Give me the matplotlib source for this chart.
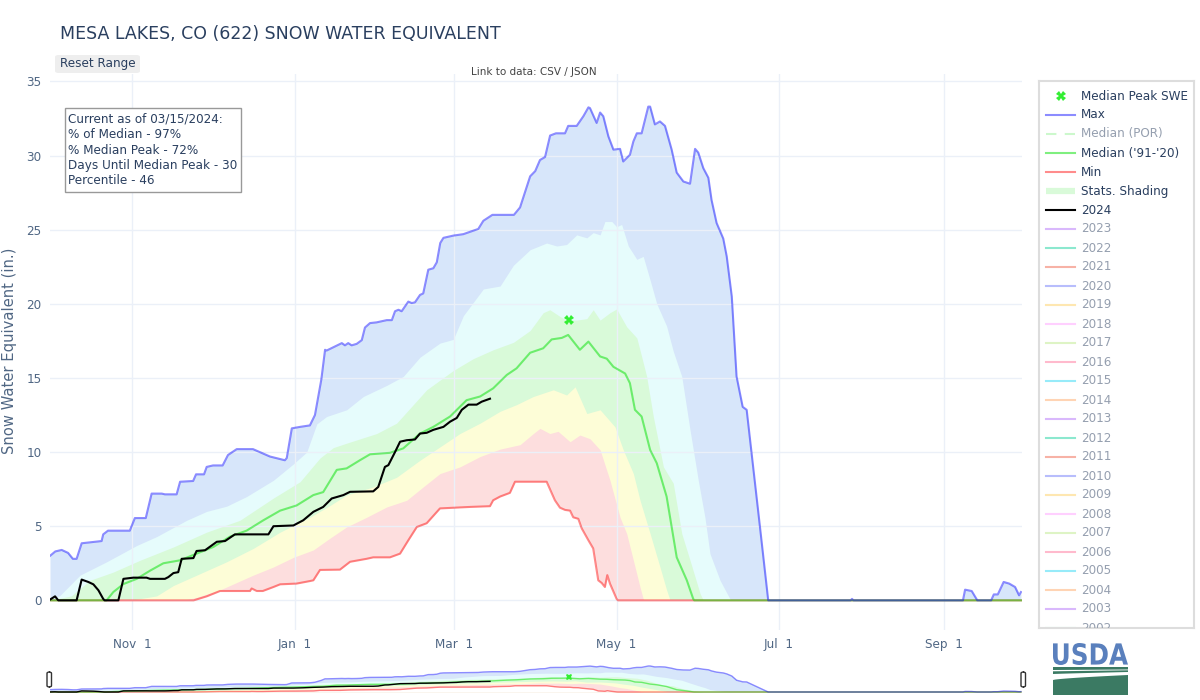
import numpy as np
import pandas as pd
import matplotlib
matplotlib.use('Agg')
import matplotlib.pyplot as plt
import matplotlib.dates as mdates
from matplotlib.patches import Rectangle, FancyBboxPatch, PathPatch, Polygon
from matplotlib.textpath import TextPath
from matplotlib.font_manager import FontProperties
from matplotlib.transforms import Affine2D
from matplotlib.ticker import FuncFormatter

plt.rcParams['font.family'] = ['DejaVu Sans']

W, H = 1200, 700
start = pd.Timestamp('2023-10-01')

# ---- data: days since Oct 1 2023, SWE in inches ----
max_days = [0, 2, 4.4, 6.8, 8.6, 10, 11.9, 14.4, 19.4, 20, 21.8, 30, 31.9, 36, 38.2, 42, 43.2, 47.6,
            48.9, 53.8, 54.9, 57.9, 58.9, 61.3, 64.9, 66.9, 70.2, 76.3, 82.7, 88.3, 89, 90.9, 94,
            97.7, 99.6, 102, 103.4, 104, 109.7, 110.9, 112.1, 113.4, 115.3, 117.2, 118.4, 120.3,
            122.8, 124.1, 126.6, 128.5, 129.7, 131, 132.2, 134.7, 136, 137.2, 139.1, 140.3, 142.2,
            144.1, 145.4, 146.7, 147.9, 151.6, 155.4, 161, 162.9, 166.3, 174.4, 176.7, 180.5,
            182.4, 184.2, 186.1, 188, 190.2, 193.6, 194.8, 198, 200.5, 202.4, 203, 205.5, 206.8,
            208, 209.9, 211.8, 214.3, 215.5, 218, 219.3, 220.6, 222.4, 224.9, 225.6, 227.4, 229.3,
            231.2, 233.7, 235.6, 238.1, 240.6, 242.5, 243.7, 245.6, 247.5, 248.7, 250.6, 253.1,
            254.4, 256.3, 258.1, 260.4, 261.9, 263.2, 266.9, 270, 301, 301.5, 302, 343.2, 344,
            346.5, 348.6, 353.8, 354.8, 356.3, 358.5, 360.6, 362.8, 364.3, 365]
max_swe = [3.0, 3.3, 3.4, 3.2, 2.8, 2.8, 3.85, 3.9, 4.0, 4.45, 4.7, 4.7, 5.55, 5.55, 7.2, 7.2, 7.15, 7.15,
           8.0, 8.05, 8.5, 8.5, 9.0, 9.1, 9.1, 9.8, 10.2, 10.2, 9.7, 9.45, 9.6, 11.6, 11.7,
           11.8, 12.5, 14.9, 16.9, 16.85, 17.35, 17.2, 17.35, 17.2, 17.3, 17.55, 18.4, 18.7,
           18.75, 18.8, 18.9, 18.9, 19.5, 19.6, 19.5, 20.15, 20.05, 20.1, 20.6, 20.7, 22.3,
           22.4, 22.8, 24.1, 24.45, 24.6, 24.7, 25.05, 25.6, 26.0, 26.0, 26.5, 28.6,
           28.95, 29.7, 29.9, 31.35, 31.5, 31.5, 32.0, 32.0, 32.65, 33.25, 33.2, 32.2, 32.9,
           32.65, 31.3, 30.4, 30.45, 29.6, 30.05, 30.95, 31.5, 31.5, 33.3, 33.3, 32.1, 32.3,
           32.0, 30.4, 28.85, 28.25, 28.1, 30.45, 30.2, 29.15, 28.5, 27.0, 25.45, 24.4,
           23.2, 20.5, 15.1, 13.05, 12.85, 10.8, 4.95, 0, 0, 0.1, 0, 0, 0.72,
           0.63, 0, 0, 0.4, 0.4, 1.24, 1.13, 0.9, 0.34, 0.56]

p90_days = [0, 3.8, 11.3, 21.3, 32.6, 40.1, 51.4, 58.9, 66.4, 73.9, 84, 91.5, 96.5, 100.3, 104, 111.5,
            117.8, 126.6, 132.8, 139.1, 146.6, 151.6, 155.4, 162.9, 169.2, 174.2, 180.5, 186.7,
            190.5, 194.2, 198, 201.8, 204.2, 206.8, 208.6, 211.2, 213, 214.9, 217.4, 220.6, 223,
            225.6, 228.1, 231.8, 234.3, 237.5, 240.6, 243.7, 246.2, 248.1, 251.9, 255.6, 256.5, 365]
p90_swe = [0, 0.34, 1.7, 2.6, 3.7, 4.3, 5.4, 6.0, 6.35, 7.0, 8.1, 9.2, 10.0, 11.9, 12.4, 12.85,
           13.75, 14.5, 15.1, 16.4, 17.35, 17.6, 19.2, 21.0, 21.2, 22.6, 23.65, 24.1,
           23.9, 24.0, 24.65, 24.45, 24.8, 24.65, 25.55, 25.55, 25.2, 25.35, 23.9, 23.0, 23.2,
           21.6, 20.0, 18.5, 16.8, 15.1, 11.5, 8.1, 5.6, 3.15, 1.35, 0.1, 0, 0]

p70_days = [0, 8, 15, 23.7, 33.8, 46.4, 58.9, 71.4, 84, 94, 101.5, 106.5, 111.5, 122.8, 130.3, 141.6,
            151.6, 159.1, 166.6, 174.2, 180.5, 185.4, 187.9, 191.7, 194.2, 198, 201.8, 204.2,
            206.8, 210.5, 213, 216.8, 220.6, 222.4, 224.3, 226.8, 230.6, 234.3, 237.5, 240.6,
            244.4, 245.6, 365]
p70_swe = [0, 0.3, 1.35, 1.9, 2.7, 3.6, 4.6, 5.4, 6.9, 8.0, 9.6, 10.3, 10.6, 11.25, 11.95, 14.2,
           15.5, 16.3, 16.9, 17.4, 18.2, 19.4, 19.6, 19.15, 18.9, 18.9, 19.0, 19.6,
           18.9, 19.4, 19.65, 18.45, 17.7, 16.45, 15.1, 12.4, 9.0, 7.9, 4.5, 2.7,
           0.45, 0, 0]

p30_days = [0, 30, 40.1, 46.4, 56.4, 66.4, 76.4, 86.5, 97.7, 105.3, 111.5, 121.5, 130.3, 139.1, 146.6,
            154.1, 161.7, 169.2, 175.4, 181.7, 189.2, 194.2, 197.4, 201.8, 206.8, 212.4, 215.5,
            219.3, 221.8, 225.6, 229.3, 231.8, 233.1, 365]
p30_swe = [0, 0, 0.3, 1.0, 1.8, 2.6, 3.5, 4.6, 5.6, 6.4, 7.1, 7.65, 8.3, 9.45, 10.35,
           11.25, 11.95, 12.75, 13.2, 13.75, 14.2, 13.85, 14.4, 12.6, 12.85, 11.7, 10.15,
           8.55, 6.75, 4.5, 2.25, 0.7, 0, 0]

p10_days = [0, 50, 55.1, 63.9, 68.9, 76.4, 84, 91.5, 99, 105.3, 111.5, 119, 126.6, 134.1, 140.3, 146.6,
            154.1, 161.7, 169.2, 176.7, 181.7, 184.2, 187.9, 191, 195.5, 199.2, 203, 206.8, 210.5,
            214.3, 216.8, 219.3, 221.8, 223, 223.5, 365]
p10_swe = [0, 0, 0.2, 0.7, 1.1, 1.7, 2.25, 2.9, 3.4, 4.2, 4.95, 5.6, 6.3, 6.75, 7.65, 8.55,
           9.0, 9.7, 10.2, 10.5, 11.25, 11.6, 11.25, 11.4, 10.7, 11.15, 10.9, 10.15, 8.1,
           5.6, 4.5, 2.7, 0.9, 0.1, 0, 0]

min_days = [0, 54, 58.9, 63.9, 75.2, 75.8, 77.7, 80, 84, 86.5, 92.7, 97.7, 99, 101.5, 109, 112.8, 119,
            121.5, 127.8, 131.6, 134.7, 137.9, 141.6, 146.6, 157.9, 165.4, 166.6, 169.2, 172.9,
            174.8, 186.7, 189.8, 191.7, 193.6, 195.5, 196.7, 198.6, 199.9, 202.4, 204.2, 206.1,
            207.4, 208.6, 209.5, 210.5, 213, 213.5, 365]
min_swe = [0, 0, 0.27, 0.63, 0.63, 0.8, 0.63, 0.63, 0.9, 1.08, 1.13, 1.3, 1.35, 2.05, 2.07, 2.6, 2.8,
           2.9, 2.9, 3.15, 4.05, 4.95, 5.2, 6.2, 6.3, 6.35, 6.75, 7.0, 7.25,
           8.0, 8.0, 6.75, 6.25, 6.1, 6.05, 5.6, 5.5, 4.85, 4.05, 3.5, 1.35,
           1.17, 0.9, 1.7, 1.13, 0.1, 0, 0]

med_days = [0, 21.3, 23.8, 27.6, 32.6, 37.6, 42.6, 48.9, 55.1, 61.4, 67.7, 73.9, 80.2, 86.5, 92.7, 99,
            102.7, 107.8, 111.5, 116.5, 120.3, 127.8, 132.8, 139.1, 144.1, 150.4, 156.6, 161.7,
            166.6, 171.7, 175.4, 180.5, 185.4, 188.6, 192.4, 194.8, 199.2, 202.4, 206.8, 209.3,
            211.8, 216.2, 218, 219.9, 222.4, 225.6, 228.1, 231.8, 235.6, 239.4, 241.8, 242.2, 365]
med_swe = [0, 0, 0.56, 1.1, 1.45, 2.0, 2.5, 2.7, 3.15, 3.6, 4.3, 4.7, 5.4, 6.05, 6.4, 7.1,
           7.3, 8.8, 8.9, 9.45, 9.85, 9.95, 10.25, 11.25, 11.7, 12.4, 13.5, 13.75,
           14.3, 15.2, 15.65, 16.7, 17.0, 17.6, 17.7, 17.9, 16.9, 17.45, 16.45, 16.3,
           15.75, 15.3, 14.65, 12.85, 12.4, 10.15, 9.25, 7.0, 2.9, 1.35, 0.1, 0, 0]

wy24_days = [0, 1.9, 3.1, 10, 11.9, 14.4, 16.3, 18.2, 20, 20.5, 25.7, 27.6, 31.3, 36.3, 37.6, 43.2,
             44.5, 46.4, 48.2, 49.5, 53.9, 55.1, 58.3, 62.7, 65.8, 69.5, 82.1, 84, 91.5, 95.2, 99,
             102.7, 105.9, 110.3, 112.8, 121.5, 123.4, 125.9, 127.2, 129.7, 131.6, 134.1, 137.2,
             139.1, 141.6, 144.1, 147.9, 150.4, 152.9, 154.8, 157.3, 160.4, 162.3, 165.4]
wy24_swe = [0.05, 0.27, 0, 0, 1.4, 1.24, 1.08, 0.68, 0.1, 0, 0, 1.45, 1.53, 1.53, 1.45, 1.45,
            1.57, 1.84, 1.9, 2.8, 2.85, 3.33, 3.38, 3.95, 4.0, 4.45, 4.45, 5.0, 5.05, 5.4, 5.97,
            6.3, 6.87, 7.1, 7.32, 7.35, 7.65, 9.0, 9.12, 10.0, 10.7, 10.8, 10.85,
            11.25, 11.3, 11.5, 11.7, 12.05, 12.3, 12.85, 13.2, 13.2, 13.4, 13.6]

peak_day = 195.1
peak_swe = 18.9

years = list(range(2023, 2001, -1))
year_colors = ['#ab63fa', '#00cc96', '#EF553B', '#636efa', '#FECB52', '#FF97FF', '#B6E880',
               '#FF6692', '#19d3f3', '#FFA15A'] * 3

info_lines = ['Current as of 03/15/2024:', '% of Median - 97%', '% Median Peak - 72%',
              'Days Until Median Peak - 30', 'Percentile - 46']

# ---- style ----
C_MAX = (0, 0, 1, 0.45)
C_MIN = (1, 0, 0, 0.45)
C_MED = (0, 0.88, 0, 0.5)
BANDS = ['#d7e6fa', '#e6fcfc', '#d9fad9', '#fdfdd7', '#fddede', 'white']
TXT = '#2a3f5f'
TICK = '#506784'
GRID = '#ebf0f8'
FS = 8.64  # 12px text

d0 = mdates.date2num(start)


def X(days):
    return d0 + np.asarray(days, dtype=float)


band_series = [(max_days, max_swe), (p90_days, p90_swe), (p70_days, p70_swe),
               (p30_days, p30_swe), (p10_days, p10_swe), (min_days, min_swe)]


def draw_data(ax, lw=1.5, lw24=1.5, ms=7):
    for (dd, vv), c in zip(band_series, BANDS):
        ax.fill_between(X(dd), 0, vv, color=c, lw=0, zorder=0.2)
    ax.plot(X(min_days), min_swe, color=C_MIN, lw=lw, zorder=2)
    ax.plot(X(med_days), med_swe, color=C_MED, lw=lw, zorder=2.1)
    ax.plot(X(max_days), max_swe, color=C_MAX, lw=lw, zorder=2.2)
    ax.plot(X(wy24_days), wy24_swe, color='black', lw=lw24, zorder=3)
    ax.plot(X([peak_day]), [peak_swe], marker='X', color='#33ee33', ms=ms, mew=0, ls='none', zorder=4)


def fx(x):
    return x / W


def fy(y):
    return 1 - y / H


fig = plt.figure(figsize=(12, 7), dpi=100)

# main plot
ax = fig.add_axes([fx(50), fy(630), fx(1022 - 50), (630 - 74) / H])
draw_data(ax)
ax.set_xlim(d0, d0 + 365.4)
ax.set_ylim(-2.0, 35.5)
ax.set_yticks(range(0, 36, 5))
ax.xaxis.set_major_locator(mdates.MonthLocator(bymonth=[1, 3, 5, 7, 9, 11]))
ax.xaxis.set_major_formatter(FuncFormatter(
    lambda v, p: mdates.num2date(v).strftime('%b') + '  ' + str(mdates.num2date(v).day)))
ax.set_axisbelow(True)
ax.grid(True, color=GRID, lw=1.0)
for s in ax.spines.values():
    s.set_visible(False)
ax.tick_params(length=0, labelsize=FS, colors=TICK, pad=6)

# range slider
rs = fig.add_axes([fx(50), fy(697), fx(1022 - 50), 37 / H])
draw_data(rs, lw=1.0, lw24=1.0, ms=5)
rs.set_xlim(d0, d0 + 365.4)
rs.set_ylim(-6.4, 41)
rs.axis('off')
for hx in (47, 1021):
    fig.patches.append(FancyBboxPatch((fx(hx), fy(687)), 4.5 / W, 15 / H,
                                      boxstyle='round,pad=0,rounding_size=0.002',
                                      transform=fig.transFigure, facecolor='white',
                                      edgecolor='#333333', lw=1))

# texts
fig.text(fx(60), fy(34), 'MESA LAKES, CO (622) SNOW WATER EQUIVALENT', fontsize=12.5,
         color=TXT, va='center', ha='left')
fig.patches.append(FancyBboxPatch((fx(55), fy(73)), 85 / W, 18 / H,
                                  boxstyle='round,pad=0,rounding_size=0.003',
                                  transform=fig.transFigure, facecolor='#eeeeee', edgecolor='none'))
fig.text(fx(97.5), fy(64), 'Reset Range', fontsize=FS, color=TXT, ha='center', va='center')
fig.text(fx(534), fy(72), 'Link to data: CSV / JSON', fontsize=7.5, color='#444444',
         ha='center', va='center')
fig.text(fx(10), fy(351), 'Snow Water Equivalent (in.)', fontsize=10.6, color=TICK,
         rotation=90, ha='center', va='center')

fig.patches.append(Rectangle((fx(65), fy(192)), 176 / W, 84 / H, transform=fig.transFigure,
                             facecolor='white', edgecolor='#999999', lw=1, zorder=5))
for i, line in enumerate(info_lines):
    fig.text(fx(68), fy(119 + 15.5 * i), line, fontsize=FS, color=TXT, va='center',
             ha='left', zorder=6)

# legend
lg = fig.add_axes([fx(1039), fy(628), fx(1194 - 1039), (628 - 81) / H])
lg.set_xlim(1039, 1194)
lg.set_ylim(628, 81)
lg.set_xticks([])
lg.set_yticks([])
for s in lg.spines.values():
    s.set_color('#dddddd')
    s.set_linewidth(1.5)

GRAY_TXT = '#959faf'
entries = [('Median Peak SWE', 'marker', '#33ee33', TXT),
           ('Max', 'line', C_MAX, TXT),
           ('Median (POR)', 'dash', (0, 0.88, 0, 0.2), GRAY_TXT),
           ("Median ('91-'20)", 'line', C_MED, TXT),
           ('Min', 'line', C_MIN, TXT),
           ('Stats. Shading', 'band', '#d9fad9', TXT),
           ('2024', 'line', 'black', TXT)]
for yr, c in zip(years, year_colors):
    entries.append((str(yr), 'line', matplotlib.colors.to_rgba(c, 0.45), GRAY_TXT))

for i, (lab, kind, c, tc) in enumerate(entries):
    y = 96 + 19 * i
    if kind == 'marker':
        lg.plot([1060.5], [y], marker='X', color=c, ms=6.5, mew=0)
    elif kind == 'band':
        lg.plot([1046, 1075], [y, y], color=c, lw=4.5, solid_capstyle='butt')
    elif kind == 'dash':
        lg.plot([1046, 1075], [y, y], color=c, lw=1.5, dashes=(5, 4))
    else:
        lg.plot([1046, 1075], [y, y], color=c, lw=1.5)
    lg.text(1081, y, lab, fontsize=FS, color=tc, va='center', ha='left', clip_on=True)

# USDA logo (pixel-like coords inside its own axes)
lo = fig.add_axes([fx(1053), fy(696), fx(75), 53 / H])
lo.set_xlim(0, 75)
lo.set_ylim(53, 0)
lo.axis('off')
tp = TextPath((0, 0), 'USDA', size=30, prop=FontProperties(family='DejaVu Sans', weight='bold'))
ext = tp.get_extents()
tr = (Affine2D().translate(-ext.x0, -ext.y0)
      .scale(75 / ext.width, -22 / ext.height).translate(0, 22))
lo.add_patch(PathPatch(tr.transform_path(tp), facecolor='#5a80bd', edgecolor='none'))
GREEN = '#3b7a63'
t = np.linspace(0, 75, 40)
u = t / 75
lo.add_patch(Rectangle((0, 23.5), 75, 28.5, facecolor=GREEN, edgecolor='none'))
w1_top = 27.0 - 0.5 * u
w1_bot = 28.3 - 1.0 * u
lo.add_patch(Polygon(np.column_stack([np.r_[t, t[::-1]], np.r_[w1_top, w1_bot[::-1]]]),
                     facecolor='white', edgecolor='none'))
w2_top = 31.0 - 2.0 * u ** 0.9
w2_bot = 37.0 - 5.0 * u ** 0.7
lo.add_patch(Polygon(np.column_stack([np.r_[t, t[::-1]], np.r_[w2_top, w2_bot[::-1]]]),
                     facecolor='white', edgecolor='none'))

fig.savefig('out.png', dpi=100)
